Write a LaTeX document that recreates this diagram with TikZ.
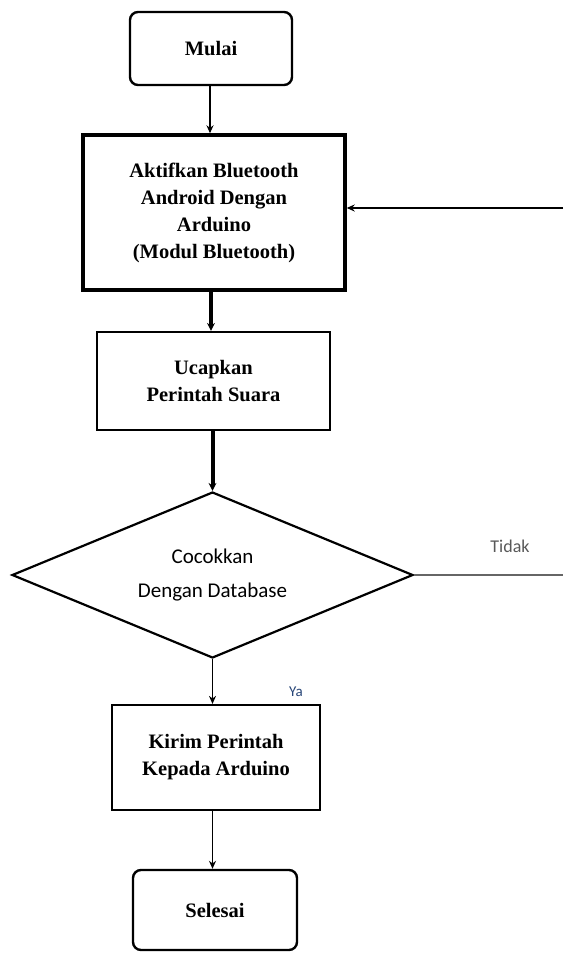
\documentclass[tikz,border=0pt]{standalone}
\usepackage{fontspec}
\setmainfont{Liberation Serif}
\newfontfamily\calfont{Carlito}
\usetikzlibrary{shapes.geometric,arrows.meta}
\begin{document}
\begin{tikzpicture}[x=1pt,y=-1pt,
  boxtext/.style={font=\fontsize{20.5}{27}\selectfont\bfseries, align=center},
  termbox/.style={draw, rounded corners=8pt, line width=2.4pt, boxtext, inner sep=0pt},
  procbox/.style={draw, line width=2.2pt, boxtext, inner sep=0pt},
  decbox/.style={draw, diamond, shape aspect=2.4, line width=2.2pt, inner sep=0pt, align=center,
    font=\calfont\fontsize{21}{34}\selectfont},
  arr/.style={-{Stealth[length=8pt,width=7pt]}, line width=1.6pt},
  thickarr/.style={-{Stealth[length=8pt,width=8pt]}, line width=4pt},
]
\useasboundingbox (0,0) rectangle (563,956);
\fill[white] (0,0) rectangle (563,956);

\node[termbox, minimum width=162pt, minimum height=73pt] (mulai) at (211,48.5) {Mulai};
\node[procbox, line width=3.4pt, minimum width=262pt, minimum height=155pt] (aktif) at (214,212.5)
  {Aktifkan Bluetooth\\Android Dengan\\Arduino\\(Modul Bluetooth)};
\node[procbox, minimum width=233pt, minimum height=98pt] (ucap) at (213.5,381)
  {Ucapkan\\Perintah Suara};
\node[decbox, minimum width=401pt, minimum height=166pt] (cocok) at (212.5,575)
  {Cocokkan\\Dengan Database};
\node[procbox, minimum width=208pt, minimum height=105pt] (kirim) at (216,757.5)
  {Kirim Perintah\\Kepada Arduino};
\node[termbox, minimum width=164pt, minimum height=80pt] (selesai) at (215,910) {Selesai};

\coordinate (rin) at (563,208);
\coordinate (rout) at (563,575);

\draw[arr] (mulai.south -| 210,0) -- (aktif.north -| 210,0);
\draw[thickarr] (aktif.south -| 211,0) -- (ucap.north -| 211,0);
\draw[thickarr] (ucap.south -| 212.5,0) -- (cocok.north);
\draw[arr] (cocok.south) -- (kirim.north -| 212.5,0);
\draw[arr] (kirim.south -| 212.5,0) -- (selesai.north -| 212.5,0);
\draw[arr] (rin) -- (aktif.east |- rin);
\draw[line width=2pt, draw=black!60] (cocok.east) -- (rout);

\node[font=\calfont\fontsize{18}{20}\selectfont, text=black!65] (tidak) at (510,546) {Tidak};
\node[font=\calfont\fontsize{15}{18}\selectfont, text={rgb,255:red,40;green,70;blue,120}] (ya) at (296,692) {Ya};
\end{tikzpicture}
\end{document}
